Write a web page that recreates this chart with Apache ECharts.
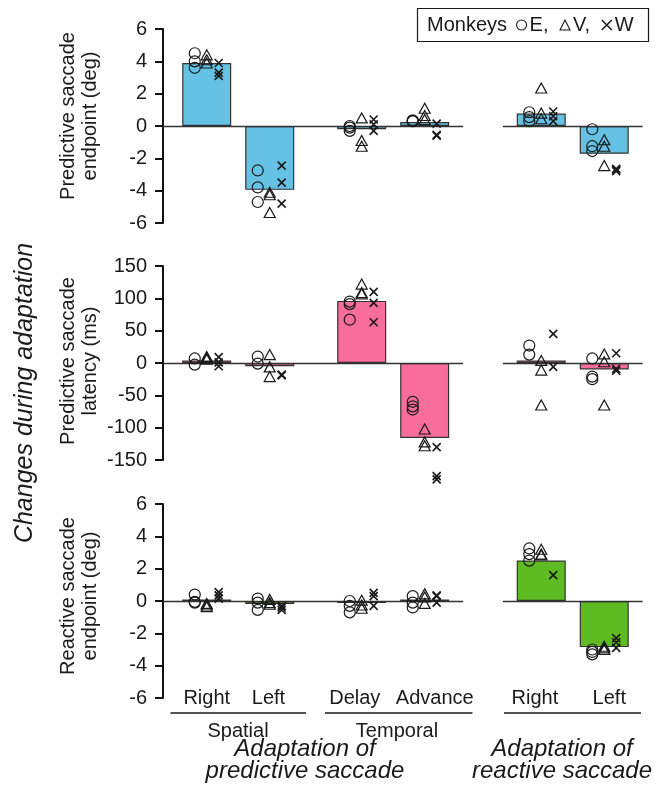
<!DOCTYPE html>
<html>
<head>
<meta charset="utf-8">
<script src="https://cdn.jsdelivr.net/npm/echarts@6/dist/echarts.min.js"></script>
<style>
html,body{margin:0;padding:0;background:#fff;}
#chart{width:655px;height:798px;}
</style>
</head>
<body>
<div id="chart"></div>
<script>
// ---------- data ----------
const categories = ['Right', 'Left', 'Delay', 'Advance', 'Right', 'Left'];
const groupLabels = ['Spatial', 'Temporal'];
const monkeys = ['E', 'V', 'W'];
const yTitles = ['Predictive saccade\nendpoint (deg)', 'Predictive saccade\nlatency (ms)', 'Reactive saccade\nendpoint (deg)'];

// bar values (means)
const endpointMean = [3.9, -3.95, -0.2, 0.25, 0.77, -1.72];
const latencyMean = [4, -5, 96, -116, 4, -10];
const reactiveMean = [0.1, -0.18, -0.12, 0.1, 2.5, -2.85];

// individual sessions per monkey, per category
const endpointE = [[4.5, 4.0, 3.6], [-2.75, -3.8, -4.7], [0.0, -0.1, -0.3], [0.35, 0.3, 0.3], [0.85, 0.55, 0.3], [-0.2, -1.25, -1.55]];
const endpointV = [[4.4, 4.1, 3.9], [-4.1, -4.25, -5.35], [0.5, -0.9, -1.25], [1.1, 0.65, 0.4], [2.35, 0.8, 0.45], [-0.85, -1.25, -2.45]];
const endpointW = [[3.9, 3.3, 3.1], [-2.45, -3.5, -4.8], [0.4, 0.1, -0.3], [0.15, -0.55, -0.6], [0.9, 0.6, 0.3], [-2.65, -2.7, -2.8]];

const latencyE = [[7, -2.5], [10, -1], [95, 91, 67], [-60, -67, -72], [27, 13], [7, -21, -25]];
const latencyV = [[10, 8, 6], [13, -6, -21], [122, 109, 107], [-102, -122, -128], [4, -11, -65], [14, 2, -65]];
const latencyW = [[9, 1, -5], [-18, -19, -19], [110, 93, 63], [-130, -175, -180], [45, -6], [15, -9, -12]];

const reactiveE = [[0.4, -0.05, -0.1], [0.15, -0.1, -0.55], [0.0, -0.3, -0.7], [0.3, -0.1, -0.4], [3.25, 2.9, 2.5], [-3.0, -3.15, -3.3]];
const reactiveV = [[-0.15, -0.25, -0.35], [0.1, -0.1, -0.2], [0.05, -0.25, -0.45], [0.45, 0.25, -0.15], [3.2, 2.9, 2.85], [-2.8, -2.9, -3.0]];
const reactiveW = [[0.55, 0.35, 0.15], [-0.3, -0.4, -0.55], [0.5, 0.3, -0.3], [0.35, 0.3, -0.1], [1.6], [-2.3, -2.55, -2.9]];

const yTicks = [
  { min: -6, max: 6, interval: 2 },
  { min: -150, max: 150, interval: 50 },
  { min: -6, max: 6, interval: 2 }
];

// ---------- layout (not data) ----------
const xPos = [0, 1, 2.46, 3.46, 5.31, 6.31];          // bar centres
const labelPos = [0, 0.98, 2.35, 3.62, 5.21, 6.39];   // tick-label centres
const monkeyOffset = [-0.19, 0, 0.19];
const xMin = -0.694, xMax = 7.0;
const zeroSegments = [[xMin, 4.07], [4.70, 6.92]];
const barColors = ['#66c2e4', '#f86d9c', '#5fbb22'];
const gridTops = [29, 266, 504];
const gridH = 194;
const titleCenters = [116, 361, 596];
const FONT = '"Liberation Sans", Arial, Helvetica, sans-serif';
const INK = '#1a1a1a';

const panels = [
  { mean: endpointMean, pts: [endpointE, endpointV, endpointW] },
  { mean: latencyMean, pts: [latencyE, latencyV, latencyW] },
  { mean: reactiveMean, pts: [reactiveE, reactiveV, reactiveW] }
];

const symbols = ['circle', 'triangle', 'path://M0,0L10,10M10,0L0,10'];
const symbolSizes = [11, [11, 10], 8];

const grids = [], xAxes = [], yAxes = [], series = [], graphics = [];
panels.forEach((p, gi) => {
  grids.push({ left: 163, width: 484.7, top: gridTops[gi], height: gridH });
  const isBottom = gi === 2;
  xAxes.push({
    type: 'value', gridIndex: gi, min: xMin, max: xMax,
    show: isBottom,
    axisLine: { show: false }, axisTick: { show: false }, splitLine: { show: false },
    axisLabel: {
      show: isBottom, customValues: labelPos, margin: 0, verticalAlign: 'middle',
      fontSize: 20, color: INK, fontFamily: FONT,
      formatter: function (v) {
        let best = 0;
        labelPos.forEach((x, i) => { if (Math.abs(x - v) < Math.abs(labelPos[best] - v)) best = i; });
        return categories[best];
      }
    }
  });
  yAxes.push({
    type: 'value', gridIndex: gi,
    min: yTicks[gi].min, max: yTicks[gi].max, interval: yTicks[gi].interval,
    axisLine: { show: true, onZero: false, lineStyle: { color: '#111', width: 2 } },
    axisTick: { show: true, length: 8, lineStyle: { color: '#111', width: 2 } },
    axisLabel: { margin: 16, fontSize: 20, color: INK, fontFamily: FONT },
    splitLine: { show: false }
  });
  graphics.push({
    type: 'text', x: 79, y: titleCenters[gi], rotation: Math.PI / 2,
    style: { text: yTitles[gi], font: '20px ' + FONT, lineHeight: 22, fill: INK, textAlign: 'center', textVerticalAlign: 'middle' }
  });
  series.push({
    type: 'bar', xAxisIndex: gi, yAxisIndex: gi, barWidth: 49,
    data: p.mean.map((v, i) => [xPos[i], v]),
    itemStyle: { color: barColors[gi], borderColor: '#333', borderWidth: 1.2 },
    z: 2,
    markLine: {
      silent: true, symbol: 'none', label: { show: false },
      lineStyle: { color: '#333', width: 1.3, type: 'solid' },
      data: zeroSegments.map(s => [{ coord: [s[0], 0] }, { coord: [s[1], 0] }])
    }
  });
  p.pts.forEach((arr, mi) => {
    const data = [];
    arr.forEach((vals, ci) => vals.forEach(v => data.push([xPos[ci] + monkeyOffset[mi], v])));
    series.push({
      type: 'scatter', name: monkeys[mi], xAxisIndex: gi, yAxisIndex: gi, clip: false,
      symbol: symbols[mi], symbolSize: symbolSizes[mi], data: data, z: 5,
      itemStyle: { color: 'transparent', borderColor: INK, borderWidth: mi === 2 ? 1.6 : 1.2, opacity: 1 }
    });
  });
});

graphics.push(
  { type: 'rect', shape: { x: 417.5, y: 8.5, width: 231, height: 33 }, style: { fill: 'none', stroke: INK, lineWidth: 1.2 } },
  { type: 'text', x: 427, y: 25, style: { text: 'Monkeys', font: '20px ' + FONT, fill: INK, textVerticalAlign: 'middle' } },
  { type: 'text', x: 25, y: 393, rotation: Math.PI / 2, style: { text: 'Changes during adaptation', font: 'italic 25px ' + FONT, fill: INK, textAlign: 'center', textVerticalAlign: 'middle' } },
  { type: 'line', shape: { x1: 170.5, y1: 713, x2: 306, y2: 713 }, style: { stroke: INK, lineWidth: 1.4 } },
  { type: 'line', shape: { x1: 325, y1: 713, x2: 472.5, y2: 713 }, style: { stroke: INK, lineWidth: 1.4 } },
  { type: 'line', shape: { x1: 504, y1: 713, x2: 641, y2: 713 }, style: { stroke: INK, lineWidth: 1.4 } },
  { type: 'text', x: 238, y: 731, style: { text: groupLabels[0], font: '20px ' + FONT, fill: INK, textAlign: 'center', textVerticalAlign: 'middle' } },
  { type: 'text', x: 397, y: 731, style: { text: groupLabels[1], font: '20px ' + FONT, fill: INK, textAlign: 'center', textVerticalAlign: 'middle' } },
  { type: 'text', x: 305, y: 760, style: { text: 'Adaptation of\npredictive saccade', font: 'italic 24px ' + FONT, lineHeight: 22, fill: INK, textAlign: 'center', textVerticalAlign: 'middle' } },
  { type: 'text', x: 562, y: 760, style: { text: 'Adaptation of\nreactive saccade', font: 'italic 24px ' + FONT, lineHeight: 22, fill: INK, textAlign: 'center', textVerticalAlign: 'middle' } }
);

const legendStyle = { color: 'transparent', borderColor: INK, borderWidth: 1.1 };
const chart = echarts.init(document.getElementById('chart'), null, { renderer: 'canvas' });
chart.setOption({
  animation: false,
  backgroundColor: '#fff',
  grid: grids, xAxis: xAxes, yAxis: yAxes, series: series,
  legend: {
    data: monkeys.map((m, i) => ({ name: m, icon: symbols[i], itemStyle: Object.assign({}, legendStyle, { borderWidth: i === 2 ? 1.5 : 1.1 }) })),
    left: 516, top: 15, itemWidth: 10, itemHeight: 10, itemGap: 11, padding: 0,
    textStyle: { fontSize: 20, color: INK, fontFamily: FONT, padding: [0, 0, 0, -2] },
    formatter: function (n) { return n === 'W' ? n : n + ','; },
    selectedMode: false
  },
  graphic: graphics
});
</script>
</body>
</html>
